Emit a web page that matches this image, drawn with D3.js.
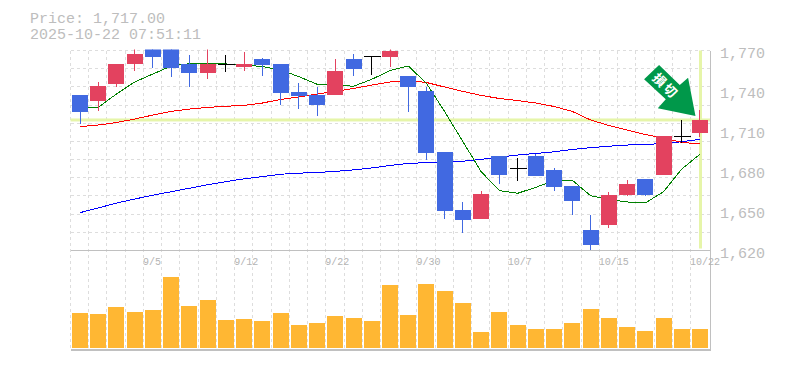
<!DOCTYPE html>
<html>
<head>
<meta charset="utf-8">
<script src="https://cdn.jsdelivr.net/npm/d3@7"></script>
<style>
  html, body { margin: 0; padding: 0; background: #fff; }
  svg { display: block; }
  text { font-family: "Liberation Mono", monospace; fill: #bdbdbd; }
</style>
</head>
<body>
<div id="chart"></div>
<script>
var titleLines = ['Price: 1,717.00', '2025-10-22 07:51:11'];
var currentPrice = 1717.9;

var dateLabels = {4: '9/5', 9: '9/12', 14: '9/22', 19: '9/30', 24: '10/7', 29: '10/15', 34: '10/22'};
var priceTicks = [1620, 1650, 1680, 1710, 1740, 1770];

var opens = [1736.6, 1732.4, 1745.1, 1760.1, 1773.4, 1771.9, 1760.1, 1753.4, 1760.1, 1757.9, 1763.6, 1759.9,
  1738.9, 1736.6, 1736.9, 1763.6, 1765.7, 1765.4, 1750.9, 1739.6, 1693.9, 1650.4, 1643.9, 1690.9, 1681.7,
  1690.9, 1680.4, 1668.4, 1635.4, 1639.4, 1661.9, 1673.6, 1676.9, 1705.7, 1708.1];
var highs = [1736.6, 1746.4, 1759.9, 1775, 1774, 1773, 1766.6, 1772, 1766.6, 1769.1, 1764.4, 1759.9,
  1745.6, 1742.6, 1763.6, 1767.4, 1765.7, 1771, 1750.9, 1742.6, 1693.9, 1656.4, 1664.6, 1690.9, 1689.2,
  1692.4, 1681.9, 1668.4, 1646.9, 1663.9, 1672.9, 1673.6, 1705.9, 1717.9, 1725.4];
var lows = [1715.1, 1724.9, 1742.9, 1754.9, 1757.1, 1750.4, 1742.9, 1748.9, 1754.1, 1754.9, 1751.1, 1729.4,
  1726.4, 1721.1, 1736.9, 1751.1, 1751.9, 1757.9, 1724.1, 1688.1, 1643.9, 1633.4, 1643.9, 1670.1, 1672.4,
  1676.1, 1664.6, 1646.9, 1620.2, 1637.1, 1661.1, 1661.1, 1676.9, 1700.9, 1705.4];
var closes = [1724.1, 1743.4, 1759.9, 1767.4, 1765.4, 1757.1, 1753.4, 1760.1, 1760.1, 1759.9, 1759.1, 1738.4,
  1735.9, 1729.4, 1754.6, 1756.4, 1765.7, 1769.6, 1742.9, 1693.4, 1649.9, 1643.1, 1662.4, 1676.9, 1681.7,
  1676.1, 1667.9, 1657.4, 1624.4, 1661.6, 1669.9, 1661.9, 1705.9, 1705.7, 1717.9];

var maShort = [1727.4, 1727.4, 1737.4, 1746.4, 1752.4, 1758.4, 1760.1, 1760.3, 1759.9, 1759.1, 1758, 1755.4,
  1750.4, 1744.7, 1744.1, 1743.2, 1748.4, 1754.9, 1758.4, 1745.4, 1724.1, 1701.6, 1679.1, 1664.9, 1662.9,
  1667.4, 1672.4, 1672.7, 1661.1, 1658.3, 1656.4, 1655.6, 1664.1, 1681.1, 1692.2];
var maMid = [1712.9, 1714.1, 1716, 1718.6, 1721.6, 1724.3, 1726.1, 1727.3, 1728.2, 1728.8, 1730.6, 1733.3,
  1735.1, 1737.4, 1739.3, 1741.5, 1744.1, 1746.4, 1747.5, 1746, 1742.6, 1739.3, 1736.3, 1734, 1732.5,
  1730.6, 1728, 1724.3, 1717.9, 1713.8, 1710.4, 1707, 1704.4, 1701, 1700.1];
var maLong = [1648.4, 1651.9, 1655.6, 1658.6, 1661.5, 1664.1, 1666.7, 1669.3, 1671.6, 1673.8, 1675.4, 1677.2,
  1678, 1678.5, 1679.3, 1680.5, 1681.9, 1683.8, 1685.3, 1685.9, 1686.4, 1687, 1688.3, 1690.1, 1691.6,
  1692.8, 1694, 1695.8, 1697.1, 1698.2, 1699.1, 1699.5, 1700.3, 1701.6, 1703.4];

var volumes = [35, 34, 41, 36, 38, 71, 42, 48, 28, 29, 27, 35, 23, 25, 32, 30, 27, 63,
  33, 64, 57, 45, 16, 36, 23, 19, 19, 25, 39, 30, 21, 17, 30, 19, 19];

var signalLabel = '損切';

var width = 785, height = 370;
var plot = {left: 70.5, right: 710, top: 50.5, mid: 250.5, bottom: 350};
var barWidth = 16;
var gridColor = '#dddddd', borderColor = '#c0c0c0', markerColor = '#e6f5a9';
var upColor = '#e3425f', downColor = '#4169e1', volumeColor = '#ffb733';

var svg = d3.select('#chart').append('svg')
  .attr('width', width)
  .attr('height', height);

svg.append('defs').append('clipPath')
  .attr('id', 'price-clip')
  .append('rect')
  .attr('x', plot.left)
  .attr('y', plot.top - 1)
  .attr('width', plot.right - plot.left)
  .attr('height', plot.mid - plot.top + 1);

var x = d3.scaleBand()
  .domain(d3.range(closes.length))
  .range([70.9, 709.1]);
var y = d3.scaleLinear().domain([1620, 1770]).range([plot.mid, plot.top]);
var yVolume = d3.scaleLinear().domain([0, 98]).range([348, 250]);

function center(i) { return x(i) + x.bandwidth() / 2; }
function snap(v) { return Math.round(v - 0.5) + 0.5; }

// grid
var grid = svg.append('g').attr('class', 'grid')
  .attr('stroke', gridColor)
  .attr('stroke-dasharray', '3,3')
  .attr('shape-rendering', 'crispEdges');

grid.selectAll('line.h')
  .data(d3.range(0, 11))
  .enter().append('line')
  .attr('class', 'h')
  .attr('x1', plot.left)
  .attr('x2', plot.right)
  .attr('y1', function(d) { return snap(plot.top + d * (plot.mid - plot.top) / 11); })
  .attr('y2', function(d) { return snap(plot.top + d * (plot.mid - plot.top) / 11); });

grid.selectAll('line.v')
  .data(d3.range(closes.length))
  .enter().append('line')
  .attr('class', 'v')
  .attr('y1', plot.top)
  .attr('y2', plot.bottom)
  .attr('x1', function(d) { return snap(center(d) - 9.5); })
  .attr('x2', function(d) { return snap(center(d) - 9.5); });

// frame
var frame = svg.append('g').attr('stroke', borderColor).attr('shape-rendering', 'crispEdges');
frame.append('line').attr('x1', plot.left).attr('x2', plot.right).attr('y1', plot.mid).attr('y2', plot.mid);
frame.append('line').attr('x1', plot.left).attr('x2', plot.right).attr('y1', plot.bottom).attr('y2', plot.bottom).attr('stroke-width', 2);
frame.append('line').attr('x1', plot.right).attr('x2', plot.right).attr('y1', plot.top).attr('y2', plot.bottom + 1);

// current price and latest bar markers
svg.append('rect')
  .attr('x', plot.left)
  .attr('y', y(currentPrice) - 1.5)
  .attr('width', plot.right - plot.left)
  .attr('height', 3)
  .attr('fill', markerColor);
svg.append('rect')
  .attr('x', Math.round(center(closes.length - 1)) - 1)
  .attr('y', plot.top)
  .attr('width', 3)
  .attr('height', 198)
  .attr('fill', markerColor);

// volume
svg.append('g').selectAll('rect')
  .data(volumes)
  .enter().append('rect')
  .attr('shape-rendering', 'crispEdges')
  .attr('x', function(d, i) { return Math.round(center(i) - barWidth / 2); })
  .attr('y', function(d) { return yVolume(d); })
  .attr('width', barWidth)
  .attr('height', function(d) { return yVolume(0) - yVolume(d); })
  .attr('fill', volumeColor);

// moving averages
var line = d3.line()
  .x(function(d, i) { return center(i); })
  .y(function(d) { return y(d); });

svg.append('g').selectAll('path')
  .data([
    {values: maLong, color: '#0000ff'},
    {values: maMid, color: '#ff0000'},
    {values: maShort, color: '#008000'}
  ])
  .enter().append('path')
  .attr('fill', 'none')
  .attr('stroke', function(d) { return d.color; })
  .attr('stroke-width', 1)
  .attr('shape-rendering', 'crispEdges')
  .attr('d', function(d) { return line(d.values); });

// candles
var candles = svg.append('g')
  .attr('clip-path', 'url(#price-clip)')
  .attr('shape-rendering', 'crispEdges')
  .selectAll('g')
  .data(d3.range(closes.length))
  .enter().append('g');

function candleColor(i) {
  if (closes[i] === opens[i]) return '#000000';
  return closes[i] > opens[i] ? upColor : downColor;
}

candles.append('line')
  .attr('x1', function(i) { return snap(center(i)); })
  .attr('x2', function(i) { return snap(center(i)); })
  .attr('y1', function(i) { return y(highs[i]); })
  .attr('y2', function(i) { return y(lows[i]); })
  .attr('stroke', candleColor);

candles.append('rect')
  .attr('x', function(i) { return Math.round(center(i) - barWidth / 2); })
  .attr('y', function(i) { return y(Math.max(opens[i], closes[i])); })
  .attr('width', function(i) { return closes[i] === opens[i] ? barWidth + 1 : barWidth; })
  .attr('height', function(i) { return Math.max(1, Math.abs(y(opens[i]) - y(closes[i]))); })
  .attr('fill', candleColor);

// axes
var xAxis = svg.append('g')
  .attr('transform', 'translate(0,' + 257 + ')')
  .call(d3.axisBottom(x)
    .tickSize(0)
    .tickPadding(0)
    .tickValues(Object.keys(dateLabels).map(Number))
    .tickFormat(function(d) { return dateLabels[d]; }));
xAxis.select('.domain').remove();
xAxis.selectAll('text')
  .attr('x', -10)
  .attr('y', 0)
  .attr('dy', '0.8em')
  .attr('text-anchor', 'start')
  .attr('font-size', 10)
  .style('font-family', '"Liberation Mono", monospace')
  .style('fill', '#b4b4b4');

var yAxis = svg.append('g')
  .attr('transform', 'translate(720,2)')
  .call(d3.axisRight(y)
    .tickSize(0)
    .tickPadding(0)
    .tickValues(priceTicks)
    .tickFormat(d3.format(',')));
yAxis.select('.domain').remove();
yAxis.selectAll('text')
  .attr('font-size', 15)
  .style('font-family', '"Liberation Mono", monospace')
  .style('fill', '#bdbdbd');

// title
svg.append('g').selectAll('text')
  .data(titleLines)
  .enter().append('text')
  .attr('x', 30)
  .attr('y', function(d, i) { return 23 + i * 15.5; })
  .attr('font-size', 15)
  .text(function(d) { return d; });

// signal arrow, anchored on the last candle
var last = closes.length - 1;
var tipX = center(last) - 4.5, tipY = y(currentPrice) - 4;
var arrowShape = [[0, 0], [-7.4, -38.3], [-15.7, -31], [-36.4, -51], [-51.4, -36.7], [-29.7, -16.7], [-37.7, -7.7]];
var arrow = svg.append('g').attr('transform', 'translate(' + tipX + ',' + tipY + ')');
arrow.append('path')
  .attr('d', d3.line()(arrowShape) + 'Z')
  .attr('fill', '#00984a');
arrow.append('text')
  .attr('transform', 'translate(-30,-30) rotate(45)')
  .attr('text-anchor', 'middle')
  .attr('dy', '0.36em')
  .attr('font-size', 13)
  .attr('letter-spacing', 2)
  .style('font-family', '"Noto Sans CJK JP", sans-serif')
  .style('font-weight', 700)
  .style('fill', '#ffffff')
  .text(signalLabel);
</script>
</body>
</html>
